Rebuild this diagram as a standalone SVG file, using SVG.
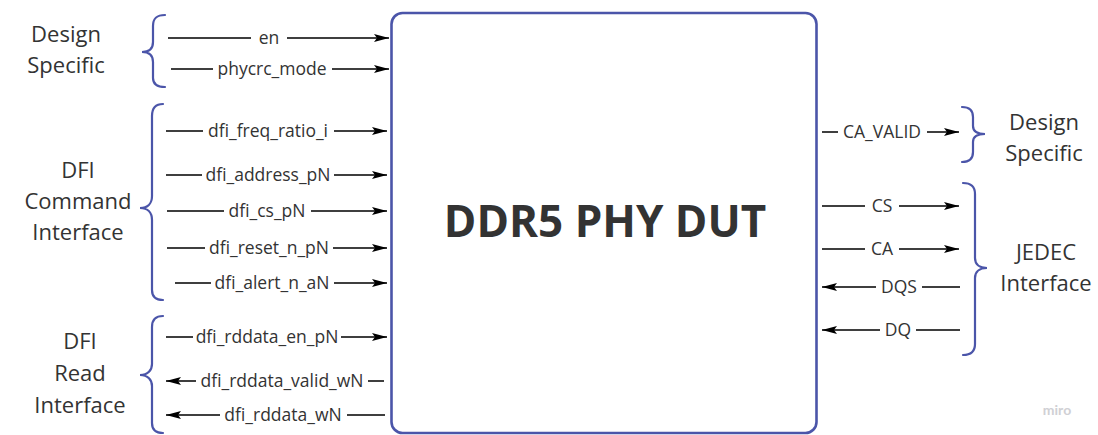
<svg xmlns="http://www.w3.org/2000/svg" width="1098" height="435" viewBox="0 0 1098 435">
<style>
.lbl{font-family:"Open Sans","Liberation Sans",sans-serif;font-size:17.5px;fill:#333;text-anchor:middle;dominant-baseline:central}
.grp{font-family:"Open Sans","Liberation Sans",sans-serif;font-size:22px;fill:#333;text-anchor:middle}
.title{font-family:"Open Sans","Liberation Sans",sans-serif;font-size:44px;font-weight:bold;fill:#333;text-anchor:middle}
.brace{fill:none;stroke:#4b55a9;stroke-width:2.2;stroke-linecap:round}
.wire{fill:none;stroke:#000;stroke-width:1.3;marker-end:url(#arr)}
</style>
<defs>
<marker id="arr" viewBox="0 0 15 8" refX="15" refY="4" markerWidth="15" markerHeight="8" markerUnits="userSpaceOnUse" orient="auto">
<path d="M0,0 L15,4 L0,8 L3,4 z" fill="#000"/>
</marker>
</defs>
<g id="dut">
<rect x="391.5" y="13" width="425" height="420" rx="11" ry="11" fill="#fff" stroke="#4b55a9" stroke-width="2.6"/>
<text class="title" x="605" y="237">DDR5 PHY DUT</text>
</g>
<g id="grp-design-left">
<path class="brace" d="M165 15 C157 15 153 18 153 26 V42 C153 48 150 52 142 52 C150 52 153 56 153 62 V78 C153 84 157 87 165 87"/>
<text class="grp" x="66" y="42">Design</text>
<text class="grp" x="66" y="73">Specific</text>
</g>
<g id="grp-dfi-cmd">
<path class="brace" d="M163 104 C156 104 152 108 152 116 V196 C152 203 148 208 140 208 C148 208 152 213 152 220 V290 C152 297 156 300 163 300"/>
<text class="grp" x="78" y="178">DFI</text>
<text class="grp" x="78" y="209">Command</text>
<text class="grp" x="78" y="240">Interface</text>
</g>
<g id="grp-dfi-read">
<path class="brace" d="M163 316 C156 316 152 320 152 327 V364 C152 370 148 375 140 375 C148 375 152 380 152 386 V423 C152 430 156 433 163 433"/>
<text class="grp" x="80" y="349">DFI</text>
<text class="grp" x="80" y="381">Read</text>
<text class="grp" x="80" y="413">Interface</text>
</g>
<g id="grp-design-right">
<path class="brace" d="M962 107 C969 107 973 110 973 117 V126 C973 131 977 134 985 134 C977 134 973 137 973 142 V152 C973 159 969 162 962 162"/>
<text class="grp" x="1044" y="130">Design</text>
<text class="grp" x="1044" y="161">Specific</text>
</g>
<g id="grp-jedec">
<path class="brace" d="M963 183 C971 183 975 187 975 194 V258 C975 264 979 268 987 268 C979 268 975 272 975 278 V344 C975 351 971 355 963 355"/>
<text class="grp" x="1046" y="260">JEDEC</text>
<text class="grp" x="1046" y="291">Interface</text>
</g>
<g id="connectors">
<path class="wire" d="M168 38 H251 M287 38 H389"/>
<path class="wire" d="M171 69 H213 M332 69 H389"/>
<path class="wire" d="M166 131 H203 M334 131 H387"/>
<path class="wire" d="M166 175 H202 M334 175 H387"/>
<path class="wire" d="M167 211 H224 M311 211 H387"/>
<path class="wire" d="M167 248 H205 M333 248 H387"/>
<path class="wire" d="M175 283 H211 M334 283 H387"/>
<path class="wire" d="M166 337 H193 M341 337 H387"/>
<path class="wire" d="M384 381 H368 M196 381 H166"/>
<path class="wire" d="M385 415 H347 M220 415 H166"/>
<path class="wire" d="M822 132 H838 M927 132 H959"/>
<path class="wire" d="M822 206 H865 M899 206 H959"/>
<path class="wire" d="M822 249 H865 M899 249 H959"/>
<path class="wire" d="M960 287 H922 M876 287 H822"/>
<path class="wire" d="M960 330 H916 M880 330 H822"/>
</g>
<g id="labels">
<text class="lbl" x="269" y="37">en</text>
<text class="lbl" x="272" y="68">phycrc_mode</text>
<text class="lbl" x="268" y="130">dfi_freq_ratio_i</text>
<text class="lbl" x="268" y="174">dfi_address_pN</text>
<text class="lbl" x="267" y="210">dfi_cs_pN</text>
<text class="lbl" x="269" y="247">dfi_reset_n_pN</text>
<text class="lbl" x="272" y="282">dfi_alert_n_aN</text>
<text class="lbl" x="267" y="336">dfi_rddata_en_pN</text>
<text class="lbl" x="282" y="380">dfi_rddata_valid_wN</text>
<text class="lbl" x="283" y="414">dfi_rddata_wN</text>
<text class="lbl" x="882" y="131">CA_VALID</text>
<text class="lbl" x="882" y="205">CS</text>
<text class="lbl" x="882" y="248">CA</text>
<text class="lbl" x="899" y="286">DQS</text>
<text class="lbl" x="898" y="329">DQ</text>
</g>
<text x="1057" y="415" font-family="Lato,'Liberation Sans',sans-serif" font-size="14" font-weight="bold" fill="#d0d0d4" text-anchor="middle">miro</text>
</svg>
